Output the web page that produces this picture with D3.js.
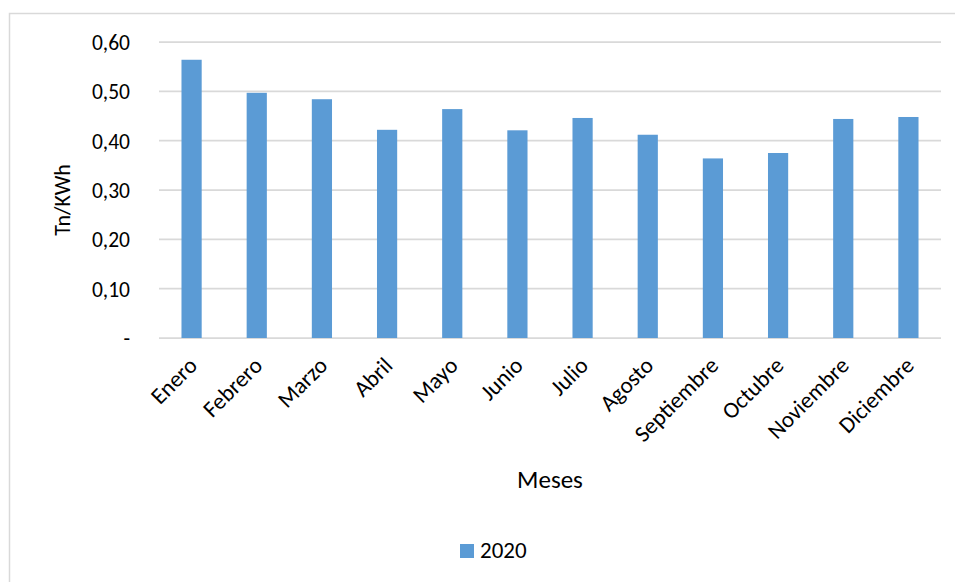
<!DOCTYPE html>
<html>
<head>
<meta charset="utf-8">
<script src="https://cdn.jsdelivr.net/npm/d3@7"></script>
<style>
  html, body { margin: 0; padding: 0; background: #fff; }
  svg { display: block; }
  text { font-family: Carlito, Lato, "Open Sans", sans-serif; fill: #000; }
</style>
</head>
<body>
<div id="chart"></div>
<script>
const categories = ["Enero","Febrero","Marzo","Abril","Mayo","Junio","Julio","Agosto","Septiembre","Octubre","Noviembre","Diciembre"];
const values2020 = [0.564, 0.497, 0.484, 0.422, 0.464, 0.421, 0.446, 0.412, 0.364, 0.375, 0.444, 0.448];
const yTicks = [0, 0.1, 0.2, 0.3, 0.4, 0.5, 0.6];
const seriesName = "2020";
const yTitle = "Tn/KWh";
const xTitle = "Meses";

const W = 955, H = 582;
const margin = {left: 159, right: 14, top: 42, bottom: 244};

const svg = d3.select("#chart").append("svg").attr("width", W).attr("height", H);

// chart border
svg.append("rect").attr("x", 9.5).attr("y", 13.5).attr("width", W).attr("height", H)
  .attr("fill", "none").attr("stroke", "#d9d9d9").attr("stroke-width", 1.5);

const x = d3.scaleBand().domain(categories).range([margin.left, W - margin.right]).paddingInner(0.69).paddingOuter(0.345);
const y = d3.scaleLinear().domain([0, 0.6]).range([H - margin.bottom, margin.top]);

// gridlines
svg.append("g").selectAll("line").data(yTicks).join("line")
  .attr("x1", margin.left).attr("x2", W - margin.right)
  .attr("y1", d => y(d)).attr("y2", d => y(d))
  .attr("stroke", "#d9d9d9").attr("stroke-width", 1.75);

// y axis
const fmt = d => d === 0 ? "-" : d3.format(".2f")(d).replace(".", ",");
const yAxis = d3.axisLeft(y).tickValues(yTicks).tickFormat(fmt).tickSize(0).tickPadding(0);
const yg = svg.append("g").attr("transform", `translate(${margin.left - 29},0)`).call(yAxis);
yg.select(".domain").remove();
yg.selectAll("text").style("font-size", "21.5px").attr("dy", "0.35em");

// bars
svg.append("g").selectAll("rect").data(values2020).join("rect")
  .attr("x", (d, i) => x(categories[i]))
  .attr("y", d => y(d))
  .attr("width", x.bandwidth())
  .attr("height", d => y(0) - y(d))
  .attr("fill", "#5b9bd5");

// x axis
const xAxis = d3.axisBottom(x).tickSize(0).tickPadding(0);
const xg = svg.append("g").attr("transform", `translate(0,${y(0)})`).call(xAxis);
xg.select(".domain").remove();
xg.selectAll("text")
  .style("font-size", "23px")
  .attr("text-anchor", "end")
  .attr("dy", "0")
  .attr("transform", "translate(7,29) rotate(-45)");

// axis titles
svg.append("text").attr("transform", `translate(70,200) rotate(-90)`)
  .attr("text-anchor", "middle").style("font-size", "22px").text(yTitle);
svg.append("text").attr("x", (margin.left + W - margin.right) / 2).attr("y", 488)
  .attr("text-anchor", "middle").style("font-size", "25px").text(xTitle);

// legend
const lg = svg.append("g").attr("transform", "translate(460,544)");
lg.append("rect").attr("width", 14).attr("height", 14).attr("fill", "#5b9bd5");
lg.append("text").attr("x", 20).attr("y", 14).style("font-size", "23px").text(seriesName);
</script>
</body>
</html>
